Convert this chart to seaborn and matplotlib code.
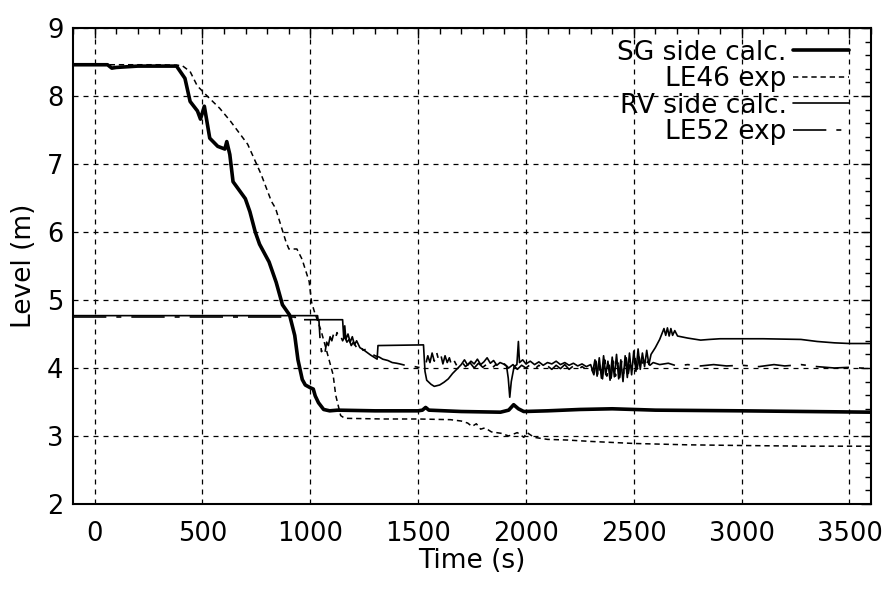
import numpy as np
import pandas as pd
import matplotlib
matplotlib.use("Agg")
import matplotlib.pyplot as plt
from matplotlib.ticker import MultipleLocator
import seaborn as sns

# ---- data: time (s) and level (m) for each trace ----
sg_t = [-100, 60, 80, 100, 200, 380, 419, 443, 477, 491, 509, 534, 571, 604, 613,
        627, 642, 699, 720, 745, 765, 809, 842, 871, 904, 928, 943, 963, 977,
        1000, 1014, 1023, 1038, 1062, 1090, 1127, 1300, 1500, 1520, 1535, 1550,
        1700, 1882, 1920, 1943, 1965, 1990, 2100, 2250, 2400, 2500, 2600, 3000,
        3300, 3600]
sg_v = [8.46, 8.46, 8.41, 8.42, 8.44, 8.44, 8.26, 7.92, 7.78, 7.66, 7.85, 7.38,
        7.26, 7.22, 7.33, 7.14, 6.74, 6.49, 6.30, 6.00, 5.82, 5.56, 5.26, 4.93,
        4.78, 4.48, 4.12, 3.83, 3.75, 3.71, 3.69, 3.59, 3.49, 3.39, 3.37, 3.38,
        3.37, 3.37, 3.38, 3.42, 3.38, 3.36, 3.35, 3.38, 3.46, 3.40, 3.36, 3.37,
        3.39, 3.40, 3.39, 3.38, 3.37, 3.36, 3.35]

le46_t = [-100, 300, 405, 443, 476, 522, 580, 630, 710, 772, 820, 839, 887, 901,
          938, 962, 995, 1006, 1019, 1050, 1077, 1106, 1118, 1141, 1160, 1340,
          1500, 1650, 1700, 1730, 1750, 1770, 1790, 1810, 1840, 1884, 1920, 1960,
          1990, 2005, 2038, 2100, 2195, 2300, 2500, 2750, 3000, 3300, 3600]
le46_v = [8.46, 8.46, 8.45, 8.36, 8.15, 8.00, 7.82, 7.63, 7.29, 6.85, 6.45, 6.35,
          5.86, 5.75, 5.75, 5.60, 5.27, 4.97, 4.83, 4.55, 4.24, 3.90, 3.60, 3.30,
          3.26, 3.25, 3.25, 3.24, 3.22, 3.19, 3.14, 3.18, 3.10, 3.12, 3.06, 3.04,
          3.00, 3.05, 2.98, 3.05, 2.98, 2.95, 2.94, 2.92, 2.89, 2.87, 2.86, 2.85,
          2.85]

rv_t = [-100, 1034, 1036, 1150, 1155, 1160, 1165, 1175, 1185, 1195, 1205, 1215,
        1230, 1250, 1280, 1310, 1314, 1525, 1532, 1540, 1560, 1575, 1600, 1620,
        1640, 1660, 1685, 1700, 1715, 1730, 1745, 1760, 1775, 1790, 1805, 1820,
        1835, 1850, 1865, 1880, 1895, 1910, 1918, 1925, 1932, 1945, 1958, 1965,
        1970, 1985, 2000, 2020, 2040, 2060, 2080, 2100, 2120, 2140, 2160, 2180,
        2200, 2220, 2240, 2260, 2280, 2300, 2310, 2320, 2330, 2340, 2350, 2360,
        2370, 2380, 2390, 2400, 2410, 2420, 2430, 2440, 2450, 2460, 2470, 2480,
        2490, 2500, 2510, 2520, 2530, 2540, 2550, 2560, 2570, 2580, 2600, 2620,
        2640, 2648, 2656, 2664, 2672, 2680, 2690, 2703, 2750, 2810, 2850, 2900,
        3000, 3100, 3275, 3350, 3430, 3500, 3600]
rv_v = [4.77, 4.77, 4.71, 4.71, 4.45, 4.62, 4.42, 4.50, 4.38, 4.46, 4.34, 4.40,
        4.30, 4.26, 4.19, 4.13, 4.33, 4.34, 3.95, 3.82, 3.76, 3.73, 3.75, 3.79,
        3.84, 3.92, 4.00, 4.05, 4.12, 4.04, 4.10, 4.06, 4.13, 4.05, 4.09, 4.15,
        4.07, 4.11, 4.04, 4.08, 4.06, 4.03, 3.85, 3.57, 3.80, 4.02, 4.05, 4.39,
        4.08, 4.12, 4.06, 4.10, 4.05, 4.09, 4.04, 4.08, 4.06, 4.10, 4.05, 4.08,
        4.04, 4.07, 4.03, 4.06, 4.02, 4.05, 3.95, 4.12, 3.88, 4.15, 3.85, 4.18,
        3.90, 4.10, 3.82, 4.16, 3.87, 4.20, 3.84, 4.12, 3.80, 4.18, 3.86, 4.22,
        3.90, 4.25, 3.95, 4.28, 3.98, 4.22, 4.02, 4.26, 4.05, 4.20, 4.30, 4.42,
        4.58, 4.48, 4.59, 4.47, 4.58, 4.48, 4.55, 4.47, 4.44, 4.41, 4.42, 4.43,
        4.43, 4.43, 4.42, 4.39, 4.37, 4.36, 4.36]

le52_t = [-100, 930, 932, 1040, 1045, 1052, 1060, 1068, 1076, 1084, 1092, 1100,
          1108, 1116, 1124, 1132, 1140, 1150, 1160, 1170, 1180, 1190, 1200, 1215,
          1230, 1245, 1262, 1280, 1300, 1320, 1336, 1360, 1380, 1400, 1415, 1440,
          1470, 1500, 1522, 1535, 1545, 1555, 1565, 1575, 1585, 1595, 1605, 1615,
          1625, 1635, 1645, 1655, 1665, 1680, 1700, 1720, 1740, 1760, 1780, 1800,
          1820, 1840, 1860, 1880, 1900, 1920, 1940, 1960, 1980, 2000, 2020, 2040,
          2060, 2080, 2100, 2120, 2140, 2160, 2180, 2200, 2220, 2240, 2260, 2280,
          2300, 2315, 2325, 2335, 2345, 2355, 2365, 2375, 2385, 2395, 2405, 2415,
          2425, 2435, 2445, 2455, 2465, 2475, 2485, 2495, 2505, 2515, 2525, 2535,
          2545, 2555, 2565, 2575, 2590, 2620, 2660, 2700, 2750, 2810, 2870, 2930,
          3000, 3080, 3150, 3200, 3275, 3350, 3430, 3500, 3600]
le52_v = [4.75, 4.75, 4.71, 4.71, 4.45, 4.24, 4.30, 4.22, 4.38, 4.33, 4.46, 4.40,
          4.50, 4.42, 4.52, 4.44, 4.48, 4.40, 4.46, 4.38, 4.42, 4.33, 4.38, 4.30,
          4.35, 4.26, 4.28, 4.22, 4.18, 4.16, 4.13, 4.11, 4.08, 4.07, 4.06, 4.04,
          4.03, 4.01, 4.00, 4.05, 4.18, 4.08, 4.22, 4.10, 4.24, 4.12, 4.20, 4.06,
          4.18, 4.08, 4.15, 4.04, 4.12, 4.03, 4.10, 4.02, 4.08, 4.00, 4.07, 4.01,
          4.06, 3.99, 4.05, 4.00, 4.06, 4.00, 4.05, 3.98, 4.04, 4.00, 4.05, 3.98,
          4.04, 3.99, 4.03, 3.98, 4.04, 3.99, 4.05, 3.98, 4.03, 3.97, 4.02, 3.98,
          4.02, 3.90, 4.10, 3.86, 4.08, 3.84, 4.12, 3.88, 4.06, 3.85, 4.10, 3.88,
          4.08, 3.86, 4.12, 3.90, 4.15, 3.92, 4.12, 3.95, 4.14, 3.98, 4.16, 4.00,
          4.12, 4.02, 4.10, 4.04, 4.08, 4.05, 4.07, 4.03, 4.05, 4.03, 4.05, 4.03,
          4.04, 4.02, 4.05, 4.03, 4.05, 4.02, 4.00, 4.01, 3.99]

series_labels = ["SG side calc.", "LE46 exp", "RV side calc.", "LE52 exp"]
x_ticks = [0, 500, 1000, 1500, 2000, 2500, 3000, 3500]
y_ticks = [2, 3, 4, 5, 6, 7, 8, 9]

# ---- style ----
sns.set_style("white")
plt.rcParams["font.family"] = ["DejaVu Sans"]
plt.rcParams["text.color"] = "black"
plt.rcParams["axes.labelcolor"] = "black"
plt.rcParams["xtick.color"] = "black"
plt.rcParams["ytick.color"] = "black"
plt.rcParams["axes.linewidth"] = 1.5

fig = plt.figure(figsize=(8.87, 5.90), dpi=100)
ax = fig.add_axes([0.0823, 0.1458, 0.8997, 0.8067])

traces = [
    (sg_t, sg_v, dict(linewidth=2.6, linestyle="-")),
    (le46_t, le46_v, dict(linewidth=1.1, linestyle=(0, (3.5, 2.5)))),
    (rv_t, rv_v, dict(linewidth=1.2, linestyle="-")),
    (le52_t, le52_v, dict(linewidth=1.2, linestyle=(0, (20, 6, 3, 6)))),
]
for (t, v, kw), name in zip(traces, series_labels):
    df = pd.DataFrame({"Time (s)": t, "Level (m)": v})
    sns.lineplot(data=df, x="Time (s)", y="Level (m)", ax=ax, color="black",
                 estimator=None, sort=False, label=name, **kw)

ax.set_xlim(-100, 3600)
ax.set_ylim(2, 9)
ax.set_xticks(x_ticks)
ax.set_yticks(y_ticks)
ax.xaxis.set_minor_locator(MultipleLocator(100))
ax.yaxis.set_minor_locator(MultipleLocator(0.2))
ax.tick_params(which="both", direction="in", top=True, right=True,
               color="black", labelcolor="black", width=1.0)
ax.tick_params(which="major", length=7)
ax.tick_params(which="minor", length=4)
ax.tick_params(axis="x", which="major", labelsize=18.5, pad=12)
ax.tick_params(axis="y", which="major", labelsize=18.5, pad=7)

ax.grid(True, which="major", color="black", linestyle=(0, (4, 4)), linewidth=0.9)
ax.set_axisbelow(True)
for s in ax.spines.values():
    s.set_color("black")
    s.set_linewidth(1.5)

ax.set_xlabel("Time (s)", fontsize=19, color="black")
ax.set_ylabel("Level (m)", fontsize=19, color="black")
ax.xaxis.set_label_coords(0.5, -0.092)
ax.yaxis.set_label_coords(-0.045, 0.5)

leg = ax.legend(loc="upper right", bbox_to_anchor=(1.0, 1.023), frameon=False,
                markerfirst=False, fontsize=19, handlelength=2.1,
                handletextpad=0.25, labelspacing=0.02, borderaxespad=0.65,
                borderpad=0.2)
for txt in leg.get_texts():
    txt.set_color("black")

fig.savefig("out.png", dpi=100, facecolor="white")
